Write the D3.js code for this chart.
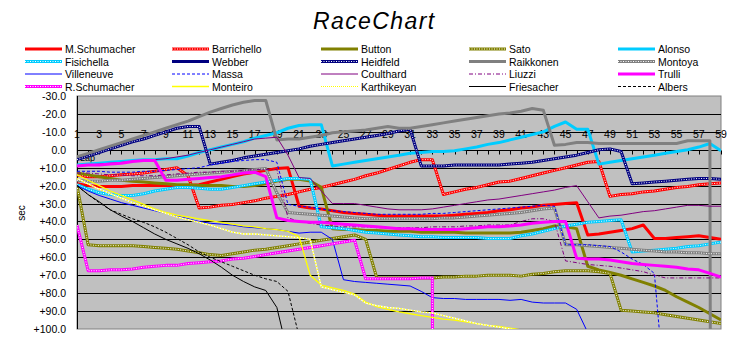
<!DOCTYPE html>
<html><head><meta charset="utf-8">
<script src="https://cdnjs.cloudflare.com/ajax/libs/d3/7.8.5/d3.min.js"></script>
<style>body{margin:0;background:#fff} svg{display:block} text{font-family:"Liberation Sans",Arial,sans-serif;fill:#000}</style>
</head><body>
<svg id="c" width="751" height="343"></svg>
<script>
// ---- data ----
const laps = d3.range(1, 60);
const xLabels = [1,3,5,7,9,11,13,15,17,19,21,23,25,27,29,31,33,35,37,39,41,43,45,47,49,51,53,55,57,59];
const yTicks = [-30,-20,-10,0,10,20,30,40,50,60,70,80,90,100];
const driverNames = ["M.Schumacher","Barrichello","Button","Sato","Alonso","Fisichella","Webber","Heidfeld","Raikkonen","Montoya","Villeneuve","Massa","Coulthard","Liuzzi","Trulli","R.Schumacher","Monteiro","Karthikeyan","Friesacher","Albers"];

const mSchumacher = [19,20,20.5,20.5,20.5,20,20,20,20,20,20,19.5,18,16.5,15,13.5,12.5,11.5,10.5,10,31.5,32.5,33,34,35,35.5,36,36.5,37,37,37,37,37,37,36.5,36,35.5,35,34,33.5,32.5,32,31,30.5,30,29.5,47.5,47,46,45,44,42,49.5,49.5,49,48.5,48,49,50];
const barrichello = [14,15,15,14.5,14,13.5,13,12,11,10,14.5,32.5,32,31,30.5,29.5,28.5,27,26,25,23.5,22,21,19.5,18,16.5,14.5,13,11,9,7,5.5,5.5,25,23.5,22,21,19.5,18,17.5,16,14.5,13,11.5,10,8.5,7,6.5,26,25,24.5,23.5,23,22,21,20.5,19.5,19,18.5];
const button = [13,14,15,16,17,17.5,18,18.5,19,19.5,19.5,20,20,20,20.5,20.5,20,19,17.5,16.5,16.5,17.5,21,44,44.5,44.5,45,45,45.5,45.5,45.5,46,46,46,46,46.5,46.5,46.5,46.5,46.5,46,45,44,42.5,43,44,65,67,68.5,70,72,74,76,78.5,82,85,88,91.5,95];
const sato = [20,53,53.5,53.5,53.5,53.5,54,54.5,55,55.5,56.5,57.5,58.5,59,58,57,56,55.5,54.5,53.5,52.5,51.5,50.5,49.5,48.5,47.5,50,71.5,71.5,71.5,71.5,71.5,71.5,71,71,70.5,70.5,70,70,70,70.5,69.5,69,68,67.5,67.5,67.5,68,69,89.5,90,90.5,91,92,93,94,95,96,97];
const alonso = [8.5,8,7.5,7,6.5,6,5.5,5.5,5,5,3.5,1.5,0,-1.5,-3,-4.5,-6.5,-8,-9.5,-12,-13.5,-14,-14,9,8,7,6,5,4,3,2,1.5,1,1,0.5,-0.5,-1.5,-3,-4,-5.5,-7,-8.5,-10,-13,-15.5,-11.5,-11.5,8,7,6,5,4,3,2,1,0,-1.5,-3.5,0.5];
const fisichella = [19.5,22,24,25,25.5,25.5,24.5,23,22,21,21,21.5,22,22,21,20,19,18,17,16,16,16.5,43,43.5,44,45,46,46.5,47,47.5,48,48.5,48.5,49,49,49,49,49.5,49.5,49.5,48,47,45.5,44,42.5,41.5,40.5,40,39.5,39,57,56.5,56,55.5,55,54,53.5,52.5,51.5];
const webber = [];
const heidfeld = [5.5,3.5,1.5,-0.5,-2.5,-4.5,-6,-8,-10,-12,-13,-13,8,7,6,4.5,3.5,2.5,1.5,0.5,-0.5,-2,-3,-4,-5,-6,-7,-8,-9,-10.5,-11.5,9,9,9,8.5,8.5,8.5,8.5,8.5,8,7.5,7,6,5,4,3,1.5,0,-0.5,1,19,18.5,18,17.5,17,16.5,16,16,16.5];
const raikkonen = [4,2,0,-2,-4,-6,-8,-10,-12,-14,-16,-18.5,-21,-23,-25,-26.5,-27.5,-27.5,-5.5,-6,-6,-7,-8,-9.5,-10,-10.5,-11,-12,-13,-12,-12,-13,-14,-15,-16,-17,-18,-19,-20,-20.5,-21.5,-23,-22,-2.5,-3,-4,-4,-3.5,-3.5,-3.5,-3.5,-3.5,-3.5,-3.5,-3.5,-5,-5,-5,3000];
const montoya = [17,17.5,17.5,17,17,16.5,16,15.5,15,14.5,14,13.5,13,12.5,12,11.5,11,10.5,24,35,35.5,36,36.5,37,37.5,38,38.5,38.5,38.5,38.5,38.5,38.5,38.5,38,38,37.5,37,36.5,36,35.5,35,34,33,32.5,53,53,53.5,54,54.5,55,55.5,56,56.5,57,57,57.5,57.5,58,58];
const villeneuve = [20,23,25.5,27.5,29.5,31,32.5,34,35.5,37,38.5,40,41,41.5,42,43,43.5,44,44.5,45.5,46.5,46,46,50,72.5,73.5,74,74.5,75,75.5,76,79,82.5,83,83,83.5,83.5,83.5,83.5,84,83.5,85,85.5,85.5,85.5,89,102,104];
const massa = [12,12,12,12.5,12.5,12.5,12,12,11.5,11,10.5,10,8.5,7.5,6.5,6,5.5,5.5,7,30.5,31.5,32,33,34,34.5,35,35.5,36,36,36,36,36,35.5,35.5,35,34.5,34,33.5,33,32.5,32,31.5,31,31.5,53,53,53,53.5,54,57,61,64,69,140];
const coulthard = [9,8.5,8,7.5,7,6.5,6,5.5,5,4,3,1.5,0,-1.5,-3,-4.5,-6,-6.5,-7,3,15.5,16,23,30,30,30,31,32,33,33.5,33.5,33.5,33,32,31,30,29,28,27.5,26.5,25.5,24.5,23.5,22.5,21,20,29,38,37,36.5,35.5,34.5,34,33,32,31,31,31.5,31.5];
const liuzzi = [13,13,13.5,14,14,14.5,14.5,14.5,14,13.5,13,12.5,12.5,12,12,11.5,11,11,11,38,40,41,42,42.5,43,43,43,43.5,43.5,43.5,43.5,43.5,43,43,43,42.5,42.5,42,42,42,40,38.5,38.5,40,62,63,64,64.5,65,66,67,68,70,71.5,71.5,71.5,71.5,71.5,71.5];
const trulli = [9,8.5,8.5,8,7.5,6.5,6,6,17,17,16.5,16,15.5,15,14,13,12.5,15,38,39.5,40,40.5,40.5,41,41.5,42,42.5,43,43.5,44,44,44.5,44.5,44.5,44.5,44,43.5,43,43,42.5,42,41,40.5,40,40,60.5,61,61,61.5,62.5,63.5,64,64.5,65,65.5,66.5,67,69,71];
const rSchumacher = [42,67.5,67.5,67,67,66.5,65.5,65,64.5,64.5,63.5,63,62.5,62,61,60.5,59.5,58.5,57.5,56.5,55.5,54.5,53.5,52.5,51.5,50.5,72,72,72,72,72,71.5,71.5,3000];
const monteiro = [14,17,20,23,25.5,28,30.5,33,35,36.5,37.5,38.5,39.5,40.5,41.5,42.5,43,44,44.5,45.5,48.5,70,75.5,77,78.5,80.5,85,87.5,89,90.5,91.5,92.5,93.5,94.5,95,96,97,98,98.5,99.5,100.5,102];
const karthikeyan = [16,19,22,24.5,27,29.5,31.5,33.5,35.5,37.5,39,40.5,42,44,46,47,47,47.5,48,48.5,49,50,76.5,78,79.5,81,85.5,87,88,88.5,89.5,90.5,91,92.5,94,95.5,97,98,99,100,101.5];
const friesacher = [20,25,29,33.5,37,40,43.5,47,50,52.5,55,58,61.5,65.5,70,73.5,76.5,78.5,88,114];
const albers = [20,25,29.5,33.5,36,38.5,40.5,43,46,49.5,53,57,60,62.5,65,67.5,70,72,73.5,79,104];

const seriesValues = [mSchumacher,barrichello,button,sato,alonso,fisichella,webber,heidfeld,raikkonen,montoya,villeneuve,massa,coulthard,liuzzi,trulli,rSchumacher,monteiro,karthikeyan,friesacher,albers];

// ---- styles ----
const RED="#FF0000",OLIVE="#808000",CYAN="#00CCFF",NAVY="#000080",GRAY="#808080",BLUE="#0000FF",PURPLE="#800080",MAG="#FF00FF",YEL="#FFFF00",BLK="#000000";
const styles = [
 {c:RED,w:3},{c:RED,w:3,dot:true},
 {c:OLIVE,w:3},{c:OLIVE,w:3,dot:true},
 {c:CYAN,w:3},{c:CYAN,w:3,dot:true},
 {c:NAVY,w:3},{c:NAVY,w:3,dot:true},
 {c:GRAY,w:3},{c:GRAY,w:3,dot:true},
 {c:BLUE,w:1},{c:BLUE,w:1,dash:"3,2"},
 {c:PURPLE,w:1},{c:PURPLE,w:1,dash:"4,2,1,2"},
 {c:MAG,w:3},{c:MAG,w:3,dot:true},
 {c:YEL,w:1.3},{c:YEL,w:1.3,ydot:true},
 {c:BLK,w:1},{c:BLK,w:1,dash:"3,2"}
];

// ---- layout ----
const L=77,R=721,T=96,B=329;
const svg=d3.select("#c");
const x=d3.scaleLinear().domain([1,59]).range([L,R]);
const y=d3.scaleLinear().domain([-30,100]).range([T,B]);

svg.append("text").attr("x",313).attr("y",29).attr("font-size","23px").attr("font-style","italic").attr("letter-spacing","1.4px").text("RaceChart");

// legend
const colX=[25,172,321,469,618], rowY=[49,61.5,74,86.5];
driverNames.forEach((n,i)=>{
  const cx=colX[i%5], cy=rowY[Math.floor(i/5)], st=styles[i];
  const g=svg.append("g");
  const mk=()=>g.append("line").attr("x1",cx).attr("x2",cx+37).attr("y1",cy).attr("y2",cy);
  if(st.ydot){ mk().attr("stroke","#fff").attr("stroke-width",1); mk().attr("stroke",st.c).attr("stroke-width",1).attr("stroke-dasharray","1,1"); }
  else {
    const l=mk().attr("stroke",st.c).attr("stroke-width",st.w);
    if(st.dash) l.attr("stroke-dasharray",st.dash);
    if(st.dot) mk().attr("stroke","#fff").attr("stroke-width",1).attr("stroke-dasharray","1,1.5");
  }
  g.append("text").attr("x",cx+40).attr("y",cy+4).attr("font-size","10.5px").text(n);
});

// plot area
svg.append("rect").attr("x",L).attr("y",T).attr("width",R-L).attr("height",B-T).attr("fill","#C0C0C0").attr("stroke",GRAY).attr("stroke-width",1);
yTicks.filter(v=>v>-30&&v<100).forEach(v=>{
  svg.append("line").attr("x1",L).attr("x2",R).attr("y1",Math.round(y(v))+0.5).attr("y2",Math.round(y(v))+0.5).attr("stroke","#000").attr("stroke-width",1);
});
svg.append("line").attr("x1",L+0.5).attr("x2",L+0.5).attr("y1",T).attr("y2",B).attr("stroke","#000");
const fmt=v=> v===0?"0.0":(v>0?"+"+v.toFixed(1):v.toFixed(1));
yTicks.forEach(v=>{
  svg.append("text").attr("x",66).attr("y",y(v)+4).attr("text-anchor","end").attr("font-size","10.5px").text(fmt(v));
});
const y0=Math.round(y(0))+0.5;
laps.forEach(l=>{
  svg.append("line").attr("x1",Math.round(x(l))+0.5).attr("x2",Math.round(x(l))+0.5).attr("y1",y0).attr("y2",y0+4).attr("stroke","#000");
});
xLabels.forEach(l=>{
  svg.append("text").attr("x",x(l)).attr("y",138).attr("text-anchor","middle").attr("font-size","10.5px").text(l);
});
svg.append("text").attr("x",80).attr("y",161).attr("font-size","9px").text("Lap");
svg.append("text").attr("transform","translate(25,213) rotate(-90)").attr("text-anchor","middle").attr("font-size","10px").text("sec");

// series
svg.append("clipPath").attr("id","pc").append("rect").attr("x",L).attr("y",T).attr("width",R-L).attr("height",B-T);
const gS=svg.append("g").attr("clip-path","url(#pc)");
const line=d3.line().defined(d=>d!=null).x((d,i)=>x(laps[i])).y(d=>y(d));
seriesValues.forEach((vals,i)=>{
  if(!vals.length) return;
  const st=styles[i];
  const mk=()=>gS.append("path").datum(vals).attr("d",line).attr("fill","none").attr("stroke-linejoin","round");
  if(st.ydot){ mk().attr("stroke","#fff").attr("stroke-width",1.3); mk().attr("stroke",st.c).attr("stroke-width",1.3).attr("stroke-dasharray","1.5,1.5"); return; }
  const p=mk().attr("stroke",st.c).attr("stroke-width",st.w);
  if(st.dash) p.attr("stroke-dasharray",st.dash);
  if(st.dot) mk().attr("stroke","#fff").attr("stroke-width",1).attr("stroke-dasharray","1,1.5");
});
</script>
</body></html>
